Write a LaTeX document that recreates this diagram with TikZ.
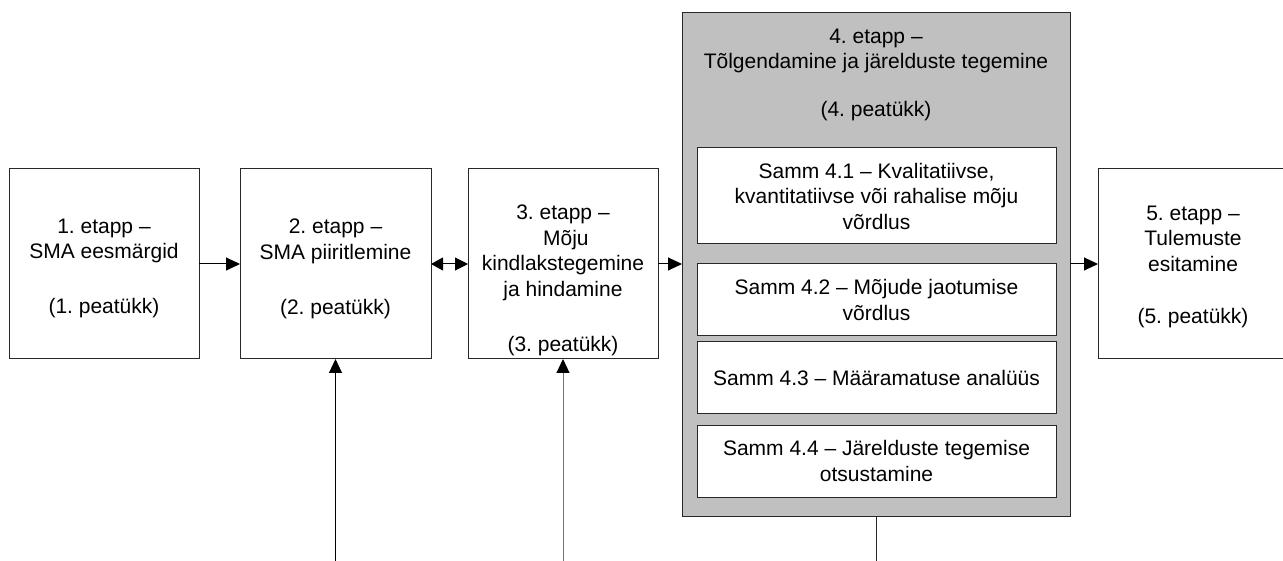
\documentclass[tikz,border=0pt]{standalone}
\usepackage{fontspec}
\setmainfont{Liberation Sans}
\usetikzlibrary{arrows.meta}
\definecolor{panelgrey}{RGB}{192,192,192}
\definecolor{edge}{RGB}{40,40,40}
\frenchspacing
\begin{document}
\begin{tikzpicture}[x=1pt,y=-1pt,
  every node/.style={inner sep=0pt, outer sep=0pt},
  stagebox/.style={draw=edge, line width=1pt, fill=white, minimum width=#1, minimum height=190pt},
  stagebox/.default=190pt,
  steptxt/.style={align=center, font=\fontsize{21}{25.5}\selectfont},
  subbox/.style={draw=edge, line width=1pt, fill=white, minimum width=359pt, align=center,
    font=\fontsize{21}{25.5}\selectfont},
  arr/.style={line width=1pt, -{Triangle[length=14pt,width=13pt,color=black]}},
  arrboth/.style={line width=1pt, {Triangle[length=12pt,width=13pt]}-{Triangle[length=13pt,width=13pt]}}
]
\useasboundingbox (0,0) rectangle (1283,561);
\clip (0,0) rectangle (1283,561);

% stage boxes
\node[stagebox] (b1) at (104,264) {};
\node[stagebox=191pt] (b2) at (335.5,264) {};
\node[stagebox] (b3) at (563,264) {};
\node[stagebox] (b5) at (1193,264) {};

\node[steptxt] (t1) at (104,268.7) {1. etapp --\\SMA eesmärgid\\[29.5pt](1. peatükk)};
\node[steptxt] (t2) at (335.5,268.7) {2. etapp --\\SMA piiritlemine\\[29.5pt](2. peatükk)};
\node[steptxt] (t3) at (563,280.2) {3. etapp --\\\ Mõju\\kindlakstegemine\\ja hindamine\\[29.5pt](3. peatükk)};
\node[steptxt] (t5) at (1193,266.7) {5. etapp --\\Tulemuste\\esitamine\\[26.5pt](5. peatükk)};

% stage 4 panel with its steps
\node[draw=edge, line width=1pt, fill=panelgrey, minimum width=388pt, minimum height=503pt] (g) at (876,264.5) {};
\node[steptxt] (gt) at (876,75.2) {4. etapp --\\Tõlgendamine ja järelduste tegemine\\[22.5pt](4. peatükk)};
\node[subbox, minimum height=96pt] (s41) at (876.5,196) {Samm 4.1 -- Kvalitatiivse,\\kvantitatiivse või rahalise mõju\\võrdlus};
\node[subbox, minimum height=72pt] (s42) at (876.5,300) {Samm 4.2 -- Mõjude jaotumise\\võrdlus};
\node[subbox, minimum height=71pt] (s43) at (876.5,377.5) {Samm 4.3 -- Määramatuse analüüs};
\node[subbox, minimum height=72pt] (s44) at (876.5,461) {Samm 4.4 -- Järelduste tegemise\\otsustamine};

% connectors
\draw[arr] (b1) -- (b2);
\draw[arrboth] (b2) -- (b3);
\draw[arr] (b3.east) -- (b3.east -| g.west);
\draw[arr] (b5.west -| g.east) -- (b5.west);

\coordinate (in2) at (335.5,570);
\coordinate (in3) at (563,570);
\coordinate (out4) at (876,570);
\draw[arr, black] (in2) -- (b2.south);
\draw[arr, black!55] (in3) -- (b3.south);
\draw[line width=1pt, edge] (g.south) -- (out4);
\end{tikzpicture}
\end{document}
